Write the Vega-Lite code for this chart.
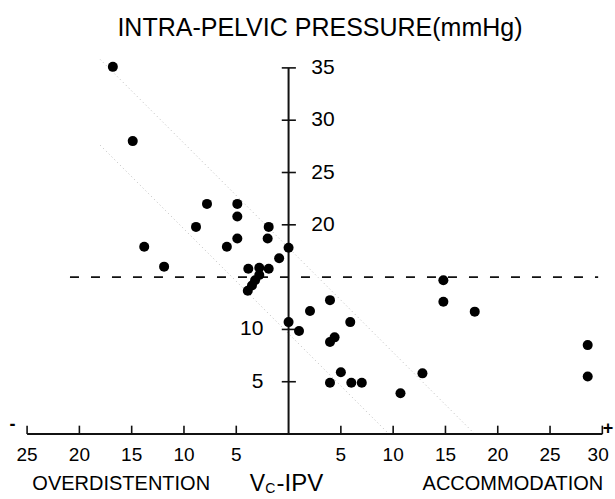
{
  "$schema": "https://vega.github.io/schema/vega-lite/v6.json",
  "width": 615,
  "height": 499,
  "autosize": {"type": "none"},
  "padding": 0,
  "background": "white",
  "config": {"view": {"stroke": null}},
  "datasets": {
    "points": [
      {"x": -16.8, "y": 35.1}, {"x": -14.9, "y": 28.0}, {"x": -13.8, "y": 17.9}, {"x": -11.9, "y": 16.0},
      {"x": -8.85, "y": 19.8}, {"x": -7.8, "y": 22.0}, {"x": -4.9, "y": 22.0}, {"x": -4.9, "y": 20.8},
      {"x": -4.9, "y": 18.7}, {"x": -5.9, "y": 17.9}, {"x": -1.9, "y": 19.8}, {"x": -2.0, "y": 18.7},
      {"x": 0.0, "y": 17.8}, {"x": -0.9, "y": 16.8}, {"x": -3.85, "y": 15.8}, {"x": -2.8, "y": 15.9},
      {"x": -1.9, "y": 15.8}, {"x": -2.8, "y": 15.2}, {"x": -3.2, "y": 14.7}, {"x": -3.5, "y": 14.2},
      {"x": -3.9, "y": 13.7}, {"x": 0.0, "y": 10.7}, {"x": 1.0, "y": 9.85}, {"x": 2.05, "y": 11.76},
      {"x": 3.96, "y": 12.8}, {"x": 5.9, "y": 10.7}, {"x": 4.4, "y": 9.24}, {"x": 3.96, "y": 8.8},
      {"x": 3.96, "y": 4.9}, {"x": 5.0, "y": 5.9}, {"x": 6.0, "y": 4.9}, {"x": 7.0, "y": 4.9},
      {"x": 10.7, "y": 3.9}, {"x": 14.8, "y": 14.7}, {"x": 14.8, "y": 12.65}, {"x": 17.8, "y": 11.7},
      {"x": 28.6, "y": 8.5}, {"x": 28.6, "y": 5.5}, {"x": 12.8, "y": 5.8}
    ],
    "axes": [
      {"x": -25, "x2": 30, "y": 0, "y2": 0},
      {"x": 0, "x2": 0, "y": 0, "y2": 35}
    ],
    "xticks": [
      {"x": -25, "x2": -25, "y": 0, "y2": 0.8}, {"x": -20, "x2": -20, "y": 0, "y2": 0.8},
      {"x": -15, "x2": -15, "y": 0, "y2": 0.8}, {"x": -10, "x2": -10, "y": 0, "y2": 0.8},
      {"x": -5, "x2": -5, "y": 0, "y2": 0.8}, {"x": 5, "x2": 5, "y": 0, "y2": 0.8},
      {"x": 10, "x2": 10, "y": 0, "y2": 0.8}, {"x": 15, "x2": 15, "y": 0, "y2": 0.8},
      {"x": 20, "x2": 20, "y": 0, "y2": 0.8}, {"x": 25, "x2": 25, "y": 0, "y2": 0.8},
      {"x": 30, "x2": 30, "y": 0, "y2": 0.8}
    ],
    "yticks": [
      {"x": -0.65, "x2": 0.7, "y": 5, "y2": 5}, {"x": -0.65, "x2": 0.7, "y": 10, "y2": 10},
      {"x": -0.65, "x2": 0.7, "y": 20, "y2": 20}, {"x": -0.65, "x2": 0.7, "y": 25, "y2": 25},
      {"x": -0.65, "x2": 0.7, "y": 30, "y2": 30}, {"x": -0.65, "x2": 0.7, "y": 35, "y2": 35}
    ],
    "dashed": [{"x": -20.9, "x2": 29.6, "y": 15, "y2": 15}],
    "dotted": [
      {"x": -18, "x2": 17.8, "y": 35.8, "y2": 0},
      {"x": -18, "x2": 9.6, "y": 27.6, "y2": 0}
    ],
    "xlabels": [
      {"x": -25, "y": -2.0, "label": "25"}, {"x": -20, "y": -2.0, "label": "20"},
      {"x": -15, "y": -2.0, "label": "15"}, {"x": -10, "y": -2.0, "label": "10"},
      {"x": -5, "y": -2.0, "label": "5"}, {"x": 5, "y": -2.0, "label": "5"},
      {"x": 10, "y": -2.0, "label": "10"}, {"x": 15, "y": -2.0, "label": "15"},
      {"x": 20, "y": -2.0, "label": "20"}, {"x": 25, "y": -2.0, "label": "25"},
      {"x": 29.6, "y": -2.0, "label": "30"}
    ],
    "ylabelsR": [
      {"x": 2.17, "y": 35, "label": "35"}, {"x": 2.17, "y": 30, "label": "30"},
      {"x": 2.17, "y": 25, "label": "25"}, {"x": 2.17, "y": 20, "label": "20"}
    ],
    "ylabelsL": [
      {"x": -2.4, "y": 10, "label": "10"}, {"x": -2.4, "y": 5, "label": "5"}
    ],
    "titles": [
      {"x": 3.0, "y": 38.8, "label": "INTRA-PELVIC PRESSURE(mmHg)"}
    ],
    "words": [
      {"x": -16.0, "y": -4.75, "label": "OVERDISTENTION"},
      {"x": 21.45, "y": -4.75, "label": "ACCOMMODATION"}
    ],
    "vlabel": [{"x": -2.97, "y": -4.75, "label": "V"}],
    "ipv": [{"x": -1.15, "y": -4.75, "label": "-IPV"}],
    "subs": [{"x": -1.74, "y": -5.25, "label": "C"}],
    "signs": [
      {"x": -26.4, "y": 0.9, "label": "-"},
      {"x": 30.55, "y": 0.45, "label": "+"}
    ]
  },
  "encoding": {
    "x": {"field": "x", "type": "quantitative", "scale": {"domain": [-27.59, 31.21], "nice": false, "zero": false}, "axis": null},
    "y": {"field": "y", "type": "quantitative", "scale": {"domain": [-6.21, 41.49], "nice": false, "zero": false}, "axis": null}
  },
  "layer": [
    {"data": {"name": "dotted"}, "mark": {"type": "rule", "color": "#bdbdbd", "strokeWidth": 1, "strokeDash": [1, 3]},
     "encoding": {"x2": {"field": "x2"}, "y2": {"field": "y2"}}},
    {"data": {"name": "dashed"}, "mark": {"type": "rule", "color": "#111", "strokeWidth": 1.8, "strokeDash": [9, 12]},
     "encoding": {"x2": {"field": "x2"}, "y2": {"field": "y2"}}},
    {"data": {"name": "axes"}, "mark": {"type": "rule", "color": "#111", "strokeWidth": 2},
     "encoding": {"x2": {"field": "x2"}, "y2": {"field": "y2"}}},
    {"data": {"name": "xticks"}, "mark": {"type": "rule", "color": "#111", "strokeWidth": 1.6},
     "encoding": {"x2": {"field": "x2"}, "y2": {"field": "y2"}}},
    {"data": {"name": "yticks"}, "mark": {"type": "rule", "color": "#111", "strokeWidth": 1.6},
     "encoding": {"x2": {"field": "x2"}, "y2": {"field": "y2"}}},
    {"data": {"name": "points"}, "mark": {"type": "circle", "color": "#000", "opacity": 1, "size": 100}},
    {"data": {"name": "xlabels"}, "mark": {"type": "text", "font": "Liberation Sans", "fontSize": 19, "align": "center", "baseline": "middle", "color": "#000"},
     "encoding": {"text": {"field": "label"}}},
    {"data": {"name": "ylabelsR"}, "mark": {"type": "text", "font": "Liberation Sans", "fontSize": 21, "align": "left", "baseline": "middle", "color": "#000"},
     "encoding": {"text": {"field": "label"}}},
    {"data": {"name": "ylabelsL"}, "mark": {"type": "text", "font": "Liberation Sans", "fontSize": 21, "align": "right", "baseline": "middle", "color": "#000"},
     "encoding": {"text": {"field": "label"}}},
    {"data": {"name": "titles"}, "mark": {"type": "text", "font": "Liberation Sans", "fontSize": 25, "align": "center", "baseline": "middle", "color": "#000"},
     "encoding": {"text": {"field": "label"}}},
    {"data": {"name": "words"}, "mark": {"type": "text", "font": "Liberation Sans", "fontSize": 20, "align": "center", "baseline": "middle", "color": "#000"},
     "encoding": {"text": {"field": "label"}}},
    {"data": {"name": "vlabel"}, "mark": {"type": "text", "font": "Liberation Sans", "fontSize": 23, "align": "center", "baseline": "middle", "color": "#000"},
     "encoding": {"text": {"field": "label"}}},
    {"data": {"name": "ipv"}, "mark": {"type": "text", "font": "Liberation Sans", "fontSize": 24, "align": "left", "baseline": "middle", "color": "#000"},
     "encoding": {"text": {"field": "label"}}},
    {"data": {"name": "subs"}, "mark": {"type": "text", "font": "Liberation Sans", "fontSize": 14, "align": "center", "baseline": "middle", "color": "#000"},
     "encoding": {"text": {"field": "label"}}},
    {"data": {"name": "signs"}, "mark": {"type": "text", "font": "Liberation Sans", "fontSize": 18, "fontWeight": "bold", "align": "center", "baseline": "middle", "color": "#000"},
     "encoding": {"text": {"field": "label"}}}
  ]
}
